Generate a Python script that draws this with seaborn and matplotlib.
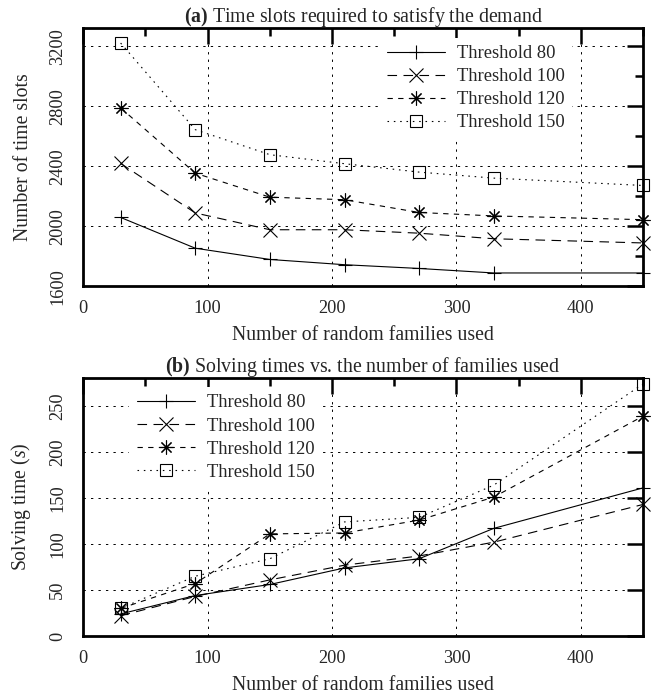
import matplotlib
matplotlib.use("Agg")
import matplotlib.pyplot as plt
import seaborn as sns
from matplotlib.ticker import MultipleLocator

# families used (x axis)
families = [30, 90, 150, 210, 270, 330, 450]

# (a) time slots needed
slots_80 = [2060, 1855, 1780, 1745, 1720, 1690, 1690]
slots_100 = [2420, 2090, 1978, 1978, 1955, 1918, 1890]
slots_120 = [2790, 2355, 2195, 2178, 2093, 2070, 2045]
slots_150 = [3222, 2645, 2478, 2418, 2362, 2322, 2273]

# (b) solving times in seconds
time_80 = [24, 44, 56, 74, 84, 117, 161]
time_100 = [22, 43, 61, 77, 87, 102, 143]
time_120 = [30, 57, 111, 112, 126, 151, 239]
time_150 = [30, 65, 84, 124, 129, 164, 274]

labels = ["Threshold 80", "Threshold 100", "Threshold 120", "Threshold 150"]

sns.set_theme(style="white")
plt.rcParams["font.family"] = ["Liberation Serif", "DejaVu Serif"]
plt.rcParams["mathtext.fontset"] = "custom"
plt.rcParams["mathtext.rm"] = "Liberation Serif"
plt.rcParams["mathtext.bf"] = "Liberation Serif:bold"
plt.rcParams["mathtext.it"] = "Liberation Serif:italic"

FS_TITLE = 14.3
FS_LABEL = 14.2
FS_TICK = 13.2
FS_LEG = 13.3

# line style per threshold: (linestyle, marker, markersize)
styles = [
    ("-", "+", 10),
    ((0, (8.6, 5.8)), "x", 9.5),
    ((0, (4.8, 4.8)), (8, 2, 0), 10),
    ((0, (1.4, 4.3)), "s", 9),
]


def draw(ax, series):
    for vals, lab, (ls, mk, ms) in zip(series, labels, styles):
        sns.lineplot(x=families, y=vals, ax=ax, color="black", linestyle=ls,
                     linewidth=0.8, marker=mk, markersize=ms,
                     markerfacecolor="none", markeredgecolor="black",
                     markeredgewidth=0.8, label=lab, clip_on=False, zorder=3)
    ax.set_xlim(0, 450)
    ax.xaxis.set_major_locator(MultipleLocator(100))
    ax.xaxis.set_minor_locator(MultipleLocator(50))
    ax.grid(True, which="major", color="black",
            linestyle=(0, (2.4, 5.3)), linewidth=0.7)
    ax.tick_params(which="both", direction="in", top=True, right=True,
                   width=1.8, color="black", labelsize=FS_TICK)
    ax.tick_params(which="major", length=11.5)
    ax.tick_params(which="minor", length=5.8)
    ax.tick_params(axis="x", pad=10)
    ax.tick_params(axis="y", pad=12.5, labelrotation=90)
    for sp in ax.spines.values():
        sp.set_linewidth(2)
        sp.set_color("black")
    ax.set_xlabel("Number of random families used", fontsize=FS_LABEL)
    ax.xaxis.set_label_coords(0.5, -0.153)


fig = plt.figure(figsize=(6.57, 6.96), dpi=100)
ax1 = fig.add_axes([0.1268, 0.5884, 0.8519, 0.3709])
ax2 = fig.add_axes([0.1268, 0.0862, 0.8519, 0.3714])

draw(ax1, [slots_80, slots_100, slots_120, slots_150])
ax1.set_ylim(1600, 3320)
ax1.yaxis.set_major_locator(MultipleLocator(400))
ax1.yaxis.set_minor_locator(MultipleLocator(200))
ax1.set_ylabel("Number of time slots", fontsize=FS_LABEL)
ax1.yaxis.set_label_coords(-0.0904, 0.5)
ax1.set_title(r"$\mathbf{(a)}$ Time slots required to satisfy the demand",
              fontsize=FS_TITLE, pad=4.5)

draw(ax2, [time_80, time_100, time_120, time_150])
ax2.set_ylim(0, 281)
ax2.yaxis.set_major_locator(MultipleLocator(50))
ax2.set_ylabel("Solving time ($s$)", fontsize=FS_LABEL)
ax2.yaxis.set_label_coords(-0.0904, 0.5)
ax2.set_title(r"$\mathbf{(b)}$ Solving times vs. the number of families used",
              fontsize=FS_TITLE, pad=4)

for ax, anchor in [(ax1, (0.5289, 0.964)), (ax2, (0.0822, 0.963))]:
    leg = ax.legend(loc="upper left", bbox_to_anchor=anchor, borderaxespad=0,
                    fontsize=FS_LEG, handlelength=3.15, handletextpad=0.63,
                    labelspacing=0.33, frameon=True, framealpha=1,
                    facecolor="white", edgecolor="white", fancybox=False)
    leg.get_frame().set_linewidth(0)
    leg.set_zorder(5)
    for t in ax.get_yticklabels():
        t.set_va("center")

fig.savefig("out.png", dpi=100)
